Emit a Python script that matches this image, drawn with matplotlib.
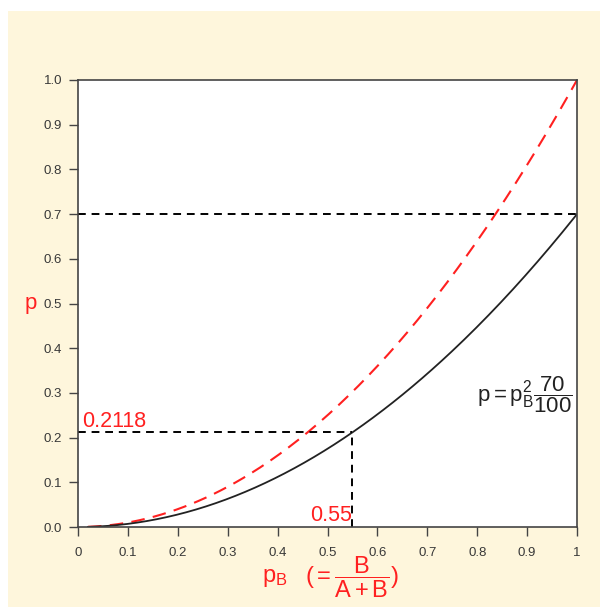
import numpy as np
import matplotlib
matplotlib.use("Agg")
import matplotlib.pyplot as plt
from matplotlib.patches import Rectangle

plt.rcParams['font.family'] = ['Liberation Sans', 'DejaVu Sans']
plt.rcParams['mathtext.fontset'] = 'custom'
plt.rcParams['mathtext.rm'] = 'Liberation Sans'
plt.rcParams['mathtext.it'] = 'Liberation Sans'
plt.rcParams['mathtext.bf'] = 'Liberation Sans:bold'

# Data
pB = np.linspace(0.02, 1.0, 200)
coef_black = 0.70          # p = pB^2 * 70/100
coef_red = 1.00            # p = pB^2
h_line = 0.7
mark_x = 0.55
mark_y = 0.2118
xticks = [0, 0.1, 0.2, 0.3, 0.4, 0.5, 0.6, 0.7, 0.8, 0.9, 1.0]
xticklabels = ['0', '0.1', '0.2', '0.3', '0.4', '0.5', '0.6', '0.7', '0.8', '0.9', '1']
yticks = [0.0, 0.1, 0.2, 0.3, 0.4, 0.5, 0.6, 0.7, 0.8, 0.9, 1.0]
yticklabels = ['0.0', '0.1', '0.2', '0.3', '0.4', '0.5', '0.6', '0.7', '0.8', '0.9', '1.0']

W, H = 600, 607
fig = plt.figure(figsize=(W / 100, H / 100), dpi=100)
fig.patch.set_facecolor('white')
fig.patches.append(Rectangle((8 / W, 0), 1 - 8 / W, 1 - 11 / H, transform=fig.transFigure,
                             facecolor='#fef6dc', edgecolor='none', zorder=-10))

ax = fig.add_axes([78 / W, 1 - 527 / H, (577 - 78) / W, (527 - 80) / H])
ax.set_facecolor('white')

ax.plot(pB, coef_red * pB ** 2, color='#ff2020', lw=1.5, dashes=(6.5, 4))
ax.plot(pB, coef_black * pB ** 2, color='#222222', lw=1.3)
ax.axhline(h_line, color='black', lw=1.4, dashes=(4, 3))
ax.plot([0, mark_x], [mark_y, mark_y], color='black', lw=1.4, dashes=(4, 3))
ax.plot([mark_x, mark_x], [0, mark_y], color='black', lw=1.4, dashes=(4, 3))

ax.text(0.008, 0.235, '0.2118', color='#ff2020', fontsize=15.5, ha='left', va='center')
ax.text(0.549, 0.003, '0.55', color='#ff2020', fontsize=15.5, ha='right', va='bottom')
ax.text(0.99, 0.296, r'$\mathregular{p = p_B^2\dfrac{70}{100}}$', color='#222222',
        fontsize=16, ha='right', va='center')

ax.set_xlim(0, 1)
ax.set_ylim(0, 1)
ax.set_xticks(xticks)
ax.set_xticklabels(xticklabels)
ax.set_yticks(yticks)
ax.set_yticklabels(yticklabels)
ax.tick_params(axis='both', direction='out', length=6.5, width=1, color='#444444',
               labelsize=9.5, labelcolor='#383838')
ax.tick_params(axis='x', pad=8)
ax.tick_params(axis='y', pad=5)
for s in ax.spines.values():
    s.set_color('#444444')
    s.set_linewidth(1.2)

fig.text(31 / W, 1 - 303 / H, 'p', color='#ff2020', fontsize=16, ha='center', va='center')
fig.text(275 / W, 1 - 582 / H, r'$\mathregular{p_B}$',
         color='#ff2020', fontsize=17, ha='center', va='baseline')
fig.text(352 / W, 1 - 577 / H, r'$\mathregular{(=\dfrac{B}{A+B})}$',
         color='#ff2020', fontsize=17, ha='center', va='center')

fig.savefig('out.png', dpi=100, facecolor=fig.get_facecolor())
